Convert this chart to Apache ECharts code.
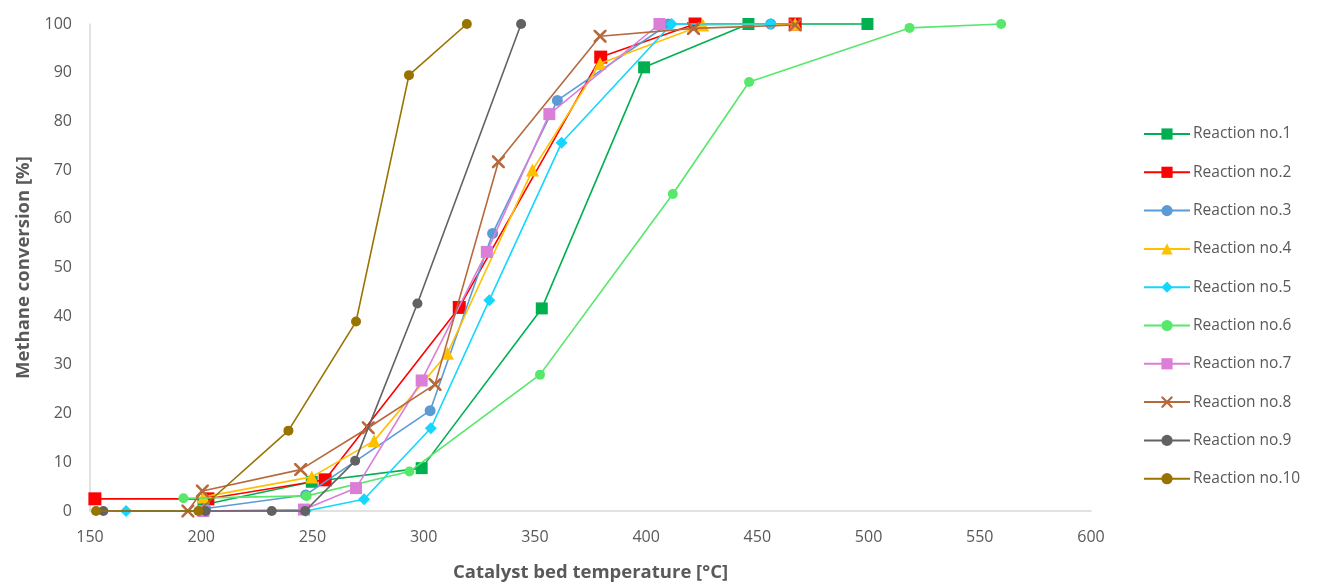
<!DOCTYPE html>
<html>
<head>
<meta charset="utf-8">
<script src="https://cdn.jsdelivr.net/npm/echarts@6/dist/echarts.min.js"></script>
<style>
  html, body { margin: 0; padding: 0; background: #fff; }
  #chart { width: 1317px; height: 583px; }
</style>
</head>
<body>
<div id="chart"></div>
<script>
// Catalyst bed temperature [°C] vs. methane conversion [%] for each reaction run
const seriesNames = [
  'Reaction no.1', 'Reaction no.2', 'Reaction no.3', 'Reaction no.4', 'Reaction no.5',
  'Reaction no.6', 'Reaction no.7', 'Reaction no.8', 'Reaction no.9', 'Reaction no.10'
];

const reaction1 = [[201, 1.3], [249.7, 6.0], [299.1, 8.8], [353.1, 41.6], [399.1, 91.1], [446, 100], [499.5, 100]];
const reaction2 = [[152.2, 2.5], [203, 2.5], [255.7, 6.4], [316, 41.8], [379.6, 93.2], [422, 100], [467, 100]];
const reaction3 = [[202, 0.5], [247, 3.3], [302.9, 20.6], [331, 57], [360.1, 84.3], [410, 100], [456, 100]];
const reaction4 = [[201, 2.9], [249.7, 7.0], [277.7, 14.4], [310.7, 32.4], [348.9, 70], [379.3, 91.9], [425.5, 99.8], [467, 100]];
const reaction5 = [[166.2, 0], [201, 0], [247, 0], [273.2, 2.4], [303.2, 17.0], [329.5, 43.3], [362, 75.6], [411.5, 100], [456, 100]];
const reaction6 = [[192, 2.6], [247.4, 3.1], [293.6, 8.1], [352.3, 28.0], [412, 65.1], [446.3, 88.1], [518.4, 99.2], [559.6, 100]];
const reaction7 = [[201, 0], [246.2, 0.3], [269.6, 4.7], [299.1, 26.8], [328.4, 53.2], [356.5, 81.5], [406, 100]];
const reaction8 = [[194, 0], [200.5, 4.1], [244.7, 8.5], [275.1, 17.1], [305.1, 26.0], [333.6, 71.7], [379.3, 97.5], [421.3, 99.1], [467, 99.8]];
const reaction9 = [[156, 0], [202, 0], [231.7, 0], [246.7, 0], [269.2, 10.3], [297.2, 42.6], [343.8, 100]];
const reaction10 = [[152.7, 0], [198.7, 0], [239.2, 16.5], [269.6, 38.9], [293.4, 89.5], [319.4, 100]];

const allData = [reaction1, reaction2, reaction3, reaction4, reaction5,
                 reaction6, reaction7, reaction8, reaction9, reaction10];

const xTicks = { min: 150, max: 600, step: 50 };
const yTicks = { min: 0, max: 100, step: 10 };

// Marker look per series
const crossPath = 'path://M0,0 L1.4,0 L5,3.6 L8.6,0 L10,0 L10,1.4 L6.4,5 L10,8.6 L10,10 L8.6,10 L5,6.4 L1.4,10 L0,10 L0,8.6 L3.6,5 L0,1.4 Z';
const styles = [
  { color: '#00B050', symbol: 'rect', size: 12 },
  { color: '#FF0000', symbol: 'rect', size: 13 },
  { color: '#5B9BD5', symbol: 'circle', size: 11 },
  { color: '#FFC000', symbol: 'triangle', size: 13 },
  { color: '#14D6FF', symbol: 'diamond', size: 12 },
  { color: '#55E86A', symbol: 'circle', size: 10 },
  { color: '#DB7ED7', symbol: 'rect', size: 12 },
  { color: '#B5693D', symbol: crossPath, size: 13 },
  { color: '#626262', symbol: 'circle', size: 10 },
  { color: '#987300', symbol: 'circle', size: 10 }
];

const font = 'Open Sans, Noto Sans, sans-serif';
const chart = echarts.init(document.getElementById('chart'), null, { renderer: 'canvas' });

chart.setOption({
  animation: false,
  backgroundColor: '#ffffff',
  grid: { left: 90, right: 226, top: 24, bottom: 72, containLabel: false, outerBoundsMode: 'none' },
  legend: {
    orient: 'vertical',
    left: 1138,
    top: 121,
    itemWidth: 46,
    itemHeight: 14,
    itemGap: 22.3,
    data: seriesNames,
    textStyle: { color: '#595959', fontSize: 15.5, fontFamily: font, padding: [0, 0, 0, -2] }
  },
  xAxis: {
    type: 'value',
    min: xTicks.min, max: xTicks.max, interval: xTicks.step,
    name: 'Catalyst bed temperature [°C]',
    nameLocation: 'middle',
    nameGap: 52,
    nameTextStyle: { color: '#595959', fontSize: 18.5, fontWeight: 'bold', fontFamily: font },
    axisLine: { show: true, onZero: false, lineStyle: { color: '#D9D9D9', width: 1.5 } },
    axisTick: { show: false },
    splitLine: { show: false },
    axisLabel: { color: '#595959', fontSize: 16, fontFamily: font, margin: 18 }
  },
  yAxis: {
    type: 'value',
    min: yTicks.min, max: yTicks.max, interval: yTicks.step,
    name: 'Methane conversion [%]',
    nameLocation: 'middle',
    nameGap: 57,
    nameRotate: 90,
    nameTextStyle: { color: '#595959', fontSize: 18.5, fontWeight: 'bold', fontFamily: font },
    axisLine: { show: true, lineStyle: { color: '#D9D9D9', width: 1.5 } },
    axisTick: { show: false },
    splitLine: { show: false },
    axisLabel: { color: '#595959', fontSize: 16, fontFamily: font, margin: 18 }
  },
  series: seriesNames.map((name, i) => ({
    name: name,
    type: 'line',
    data: allData[i],
    symbol: styles[i].symbol,
    symbolSize: styles[i].size,
    showAllSymbol: true,
    clip: false,
    lineStyle: { color: styles[i].color, width: 1.6 },
    itemStyle: { color: styles[i].color, borderWidth: 0 },
    z: 2 + i
  }))
});
</script>
</body>
</html>
